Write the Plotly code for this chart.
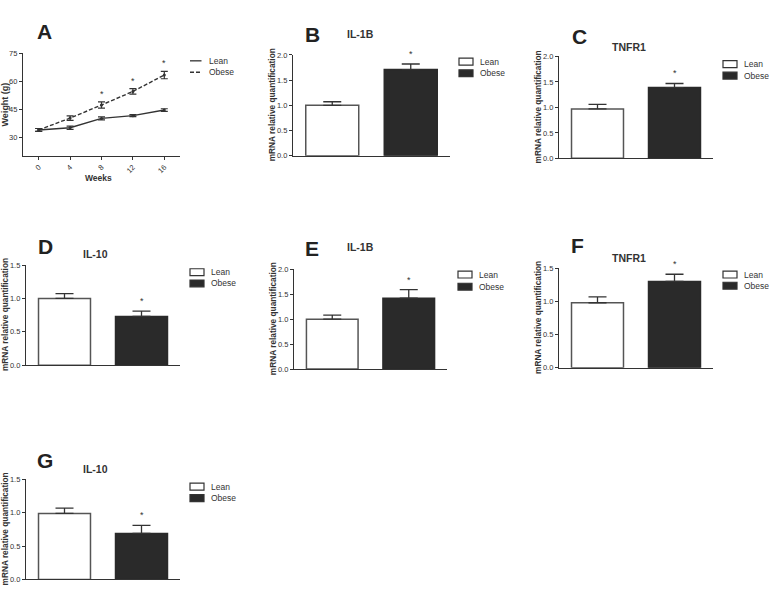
import plotly.graph_objects as go

W, H = 770, 597
FONT = "Liberation Sans, Arial, sans-serif"
DARK = "#333333"

# ---------------- data ----------------
weeks = [0, 4, 8, 12, 16]
lean_weight = [33.8, 35.0, 40.0, 41.5, 44.5]
lean_weight_err = [0.8, 0.9, 0.8, 0.5, 0.7]
obese_weight = [33.8, 40.2, 47.2, 54.5, 63.3]
obese_weight_err = [0.8, 1.2, 1.7, 1.5, 2.0]
weight_sig_weeks = [8, 12, 16]

groups = ["Lean", "Obese"]
panel_letters = ["B", "C", "D", "E", "F", "G"]
panel_genes = ["IL-1B", "TNFR1", "IL-10", "IL-1B", "TNFR1", "IL-10"]
lean_mrna = [1.00, 0.97, 1.00, 1.00, 0.98, 0.99]
lean_mrna_err = [0.07, 0.09, 0.07, 0.08, 0.09, 0.08]
obese_mrna = [1.71, 1.39, 0.73, 1.42, 1.30, 0.69]
obese_mrna_err = [0.11, 0.08, 0.08, 0.17, 0.11, 0.12]
panel_ymax = [2.0, 2.0, 1.5, 2.0, 1.5, 1.5]

# ---------------- layout geometry (pixels) ----------------
def px_x(p):
    return p / W

def px_y(p):
    return 1 - p / H

# x0, x1, ytop, ybottom of each bar panel's axes
bar_boxes = [
    (293, 450, 51.7, 154.0),
    (559, 713, 53.3, 156.7),
    (26, 180, 265.0, 366.7),
    (294, 447, 269.3, 370.7),
    (559, 713, 268.3, 369.3),
    (26, 180, 482.7, 584.3),
]
letter_pos = [(312, 31), (579, 33), (45, 246), (312, 248), (577, 245), (45, 463)]
gene_pos = [(360, 30), (629, 43.5), (95, 253.5), (360.5, 246.5), (629, 257.5), (95, 472.5)]
legend_pos = [(459, 58.5, 70.3), (723, 61, 72.7), (190, 272.3, 283.7),
              (458, 274.7, 287), (723, 274.7, 286), (190, 490, 501.7)]

fig = go.Figure()
annotations = []
shapes = []


def note(px, py, text, size, color=DARK, angle=0, xanchor="center"):
    annotations.append(dict(x=px_x(px), y=px_y(py), xref="paper", yref="paper", text=text,
                            showarrow=False, xanchor=xanchor, yanchor="middle", textangle=angle,
                            font=dict(family=FONT, size=size, color=color)))


axis_common = dict(
    showline=True, linecolor=DARK, linewidth=1.3, showgrid=False, zeroline=False,
    ticks="outside", ticklen=3, tickwidth=1.2, tickcolor=DARK,
    tickfont=dict(family=FONT, size=7.5, color=DARK), fixedrange=True,
)

# ---------------- panel A ----------------
fig.add_trace(go.Scatter(
    x=weeks, y=lean_weight, mode="lines+markers", name="Lean",
    line=dict(color=DARK, width=1.4), marker=dict(size=3, color=DARK),
    error_y=dict(type="data", array=lean_weight_err, color=DARK, thickness=1.2, width=3.5),
    xaxis="x", yaxis="y", showlegend=False,
))
fig.add_trace(go.Scatter(
    x=weeks, y=obese_weight, mode="lines+markers", name="Obese",
    line=dict(color=DARK, width=1.4, dash="4px,2px"), marker=dict(size=3, color=DARK),
    error_y=dict(type="data", array=obese_weight_err, color=DARK, thickness=1.2, width=3.5),
    xaxis="x", yaxis="y", showlegend=False,
))
layout_axes = {}
layout_axes["xaxis"] = dict(axis_common, domain=[px_x(23), px_x(180)], range=[-2, 18],
                            tickvals=weeks, tickangle=-45, anchor="y")
layout_axes["yaxis"] = dict(axis_common, domain=[px_y(154), px_y(50)], range=[20, 75],
                            tickvals=[30, 45, 60, 75], anchor="x")
for wk in weight_sig_weeks:
    i = weeks.index(wk)
    annotations.append(dict(x=wk, y=obese_weight[i] + obese_weight_err[i], xref="x", yref="y",
                            text="*", showarrow=False, xanchor="center", yanchor="bottom", yshift=1,
                            font=dict(family=FONT, size=9, color=DARK)))
note(44, 27.5, "<b>A</b>", 21, color="#222")
note(5, 102, "<b>Weight (g)</b>", 9, angle=-90)
note(98.5, 176.5, "<b>Weeks</b>", 8.5)
# legend A
for ty, dash, lbl in [(57.7, "solid", "Lean"), (69.3, "4px,2px", "Obese")]:
    shapes.append(dict(type="line", xref="paper", yref="paper", x0=px_x(190), x1=px_x(201.5),
                       y0=px_y(ty), y1=px_y(ty), line=dict(color=DARK, width=1.3, dash=dash)))
    note(207, ty, lbl, 8.5, xanchor="left")

# ---------------- bar panels ----------------
for k in range(6):
    n = k + 2
    xa, ya = f"x{n}", f"y{n}"
    x0, x1, yt, yb = bar_boxes[k]
    fig.add_trace(go.Bar(
        x=groups, y=[lean_mrna[k], obese_mrna[k]], xaxis=xa, yaxis=ya, showlegend=False,
        marker=dict(color=["#ffffff", "#2a2a2a"], line=dict(color=["#555555", "#2a2a2a"], width=1.5)),
        error_y=dict(type="data", symmetric=False, array=[lean_mrna_err[k], obese_mrna_err[k]],
                     arrayminus=[0, 0], color=DARK, thickness=1.3, width=9),
        width=0.675,
    ))
    ymax = panel_ymax[k]
    layout_axes[f"xaxis{n}"] = dict(axis_common, domain=[px_x(x0), px_x(x1)], range=[-0.5, 1.5],
                                    showticklabels=False, ticks="", anchor=ya)
    tv = [0, 0.5, 1.0, 1.5, 2.0] if ymax == 2.0 else [0, 0.5, 1.0, 1.5]
    layout_axes[f"yaxis{n}"] = dict(axis_common, domain=[px_y(yb), px_y(yt)], range=[0, ymax],
                                    tickvals=tv, tickformat=".1f", anchor=xa)
    # significance
    annotations.append(dict(x="Obese", y=obese_mrna[k] + obese_mrna_err[k], xref=xa, yref=ya,
                            text="*", showarrow=False, xanchor="center", yanchor="bottom", yshift=3,
                            font=dict(family=FONT, size=9, color=DARK)))
    lx, ly = letter_pos[k]
    note(lx, ly, f"<b>{panel_letters[k]}</b>", 21, color="#222")
    gx, gy = gene_pos[k]
    note(gx, gy, f"<b>{panel_genes[k]}</b>", 10.5)
    note(x0 - 21, (yt + yb) / 2, "<b>mRNA relative quantification</b>", 8.3, angle=-90)
    bx, y_lean, y_obese = legend_pos[k]
    for ty, fill, lbl in [(y_lean, "#ffffff", "Lean"), (y_obese, "#2a2a2a", "Obese")]:
        shapes.append(dict(type="rect", xref="paper", yref="paper",
                           x0=px_x(bx), x1=px_x(bx + 14), y0=px_y(ty + 3.5), y1=px_y(ty - 3.5),
                           fillcolor=fill, line=dict(color=DARK, width=1.2)))
        note(bx + 19, ty, lbl, 8.5, xanchor="left")

fig.update_layout(
    width=W, height=H, margin=dict(l=0, r=0, t=0, b=0),
    paper_bgcolor="white", plot_bgcolor="white",
    bargap=0.325, showlegend=False,
    annotations=annotations, shapes=shapes,
    font=dict(family=FONT, color=DARK),
    **layout_axes,
)

fig.write_html("out.html", config={"displayModeBar": False})

# remove the browser's default page margin so the figure sits at the window's corner
with open("out.html", encoding="utf-8") as fh:
    html = fh.read()
html = html.replace("<body>", '<body style="margin:0;padding:0;overflow:hidden">', 1)
with open("out.html", "w", encoding="utf-8") as fh:
    fh.write(html)
